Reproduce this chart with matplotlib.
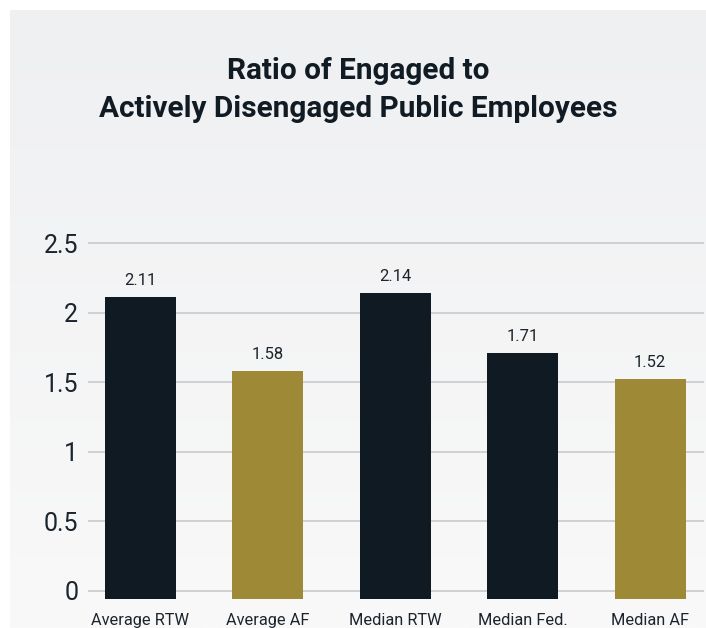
import numpy as np
import matplotlib
matplotlib.use("Agg")
import matplotlib.pyplot as plt

# ratio of engaged to actively disengaged public employees
categories = ["Average RTW", "Average AF", "Median RTW", "Median Fed.", "Median AF"]
ratios = [2.11, 1.58, 2.14, 1.71, 1.52]
groups = ["RTW", "AF", "RTW", "RTW", "AF"]
yticks = [0, 0.5, 1, 1.5, 2, 2.5]
ytick_labels = ["0", "0.5", "1", "1.5", "2", "2.5"]

navy = "#0f1a23"
gold = "#9e8a36"
text_dark = "#1c242d"
colors = {"RTW": navy, "AF": gold}

W, H = 706, 628
fig = plt.figure(figsize=(W / 100, H / 100), dpi=100, facecolor="white")

# soft grey panel behind everything, a bit darker at the top
bg = fig.add_axes([10 / W, 0, 696 / W, 618 / H], zorder=0)
shade = np.linspace(0, 1, 256).reshape(-1, 1)
bg.imshow(shade, aspect="auto", cmap=matplotlib.colors.LinearSegmentedColormap.from_list(
    "panel", ["#eff0f2", "#f9f9f9"]), extent=[0, 1, 0, 1], origin="upper")
bg.set_axis_off()

# plot area in pixels: gridlines span x 88..704, zero line at y 590.7
ymin, ymax = -0.062, 2.6
px_per_unit = (590.7 - 243.3) / 2.5
ax_bottom = 590.7 - ymin * px_per_unit
ax_top = 590.7 - ymax * px_per_unit
ax = fig.add_axes([88 / W, (H - ax_bottom) / H, 616 / W, (ax_bottom - ax_top) / H], zorder=1)
ax.set_facecolor("none")

x = np.arange(len(categories))
step = 127.5
ax.set_xlim(-(140 - 88) / step, (704 - 140) / step)
ax.set_ylim(ymin, ymax)

bar_colors = [colors[g] for g in groups]
ax.bar(x, np.array(ratios) - ymin, bottom=ymin, width=71 / step, color=bar_colors, zorder=3)

for xi, v in zip(x, ratios):
    ax.annotate(f"{v:.2f}", (xi, v), xytext=(0, 9), textcoords="offset points",
                ha="center", va="baseline", fontsize=12, family="Roboto",
                color=text_dark, zorder=4)

ax.set_yticks(yticks)
ax.set_yticklabels(ytick_labels, family="Roboto", fontsize=18, color=text_dark)
ax.set_xticks(x)
ax.set_xticklabels(categories, family="Roboto", fontsize=11.8, color=text_dark)
ax.tick_params(axis="y", length=0, pad=7)
ax.tick_params(axis="x", length=0, pad=10)

ax.yaxis.grid(True, color="#c9cacc", linewidth=1.2, zorder=0)
ax.set_axisbelow(True)
for s in ax.spines.values():
    s.set_visible(False)

title_kw = dict(ha="center", va="baseline", fontsize=21.4, fontweight="bold",
                family="Roboto", color="#111b24")
fig.text(358 / W, 1 - 79.3 / H, "Ratio of Engaged to", **title_kw)
fig.text(358 / W, 1 - 117.3 / H, "Actively Disengaged Public Employees", **title_kw)

fig.savefig("out.png", dpi=100, facecolor="white")
